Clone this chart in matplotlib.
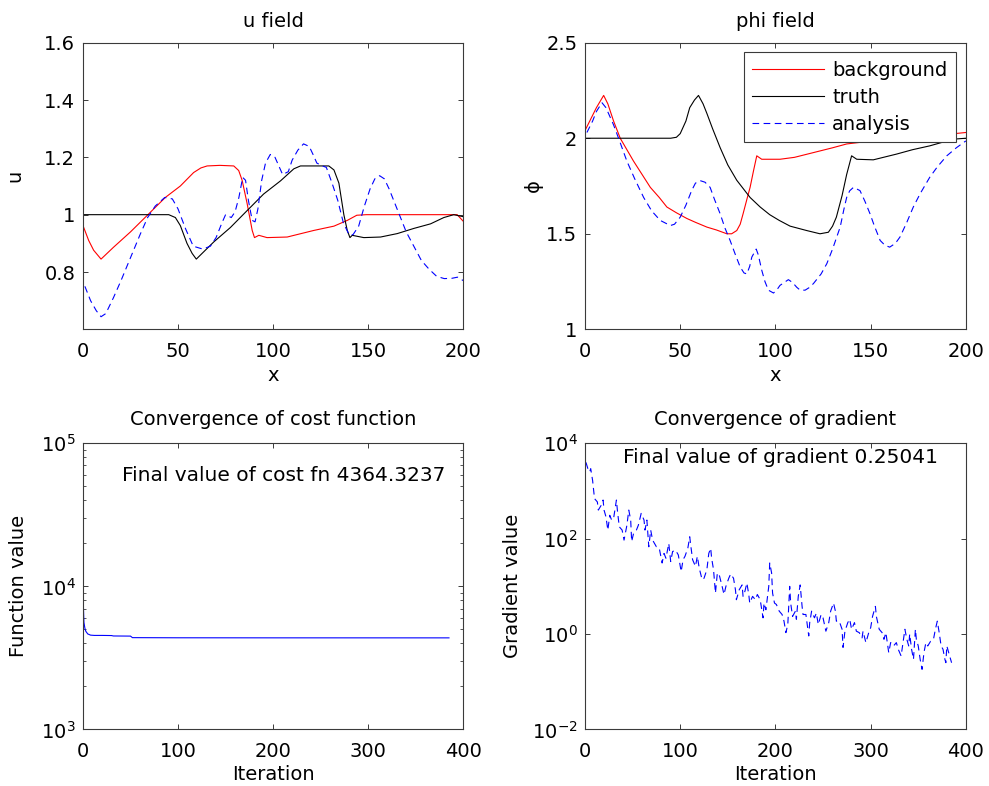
import matplotlib
matplotlib.use("Agg")
import matplotlib.pyplot as plt
import matplotlib.ticker as mticker
import numpy as np

plt.rcParams['font.family'] = ['DejaVu Sans']
plt.rcParams['font.size'] = 14
plt.rcParams['axes.linewidth'] = 0.8

# ---- u field -------------------------------------------------------------
u_bg_x = [0, 3, 5.6, 9.5, 16, 25, 33.7, 43.3, 51.2, 58.2, 62, 65.3, 72, 79.3,
          81.9, 83.7, 86.3, 89, 90.2, 92.5, 96.8, 107.4, 121.4, 132, 139, 144,
          149, 170, 196.8, 200]
u_bg = [0.962, 0.91, 0.876, 0.845, 0.886, 0.94, 0.997, 1.06, 1.10, 1.147, 1.163,
        1.17, 1.172, 1.17, 1.154, 1.12, 1.04, 0.945, 0.92, 0.928, 0.92, 0.922,
        0.945, 0.96, 0.98, 0.998, 1.0, 1.0, 1.0, 0.977]

u_truth_x = [0, 45.1, 48.6, 51.2, 54.7, 57.4, 59.6, 68.8, 77.5, 86.3, 95, 103.9,
             110.9, 114.4, 129.3, 132, 134.6, 137.2, 139, 140.4, 141.6, 147.7,
             156.5, 165.3, 174, 182.8, 189.8, 195, 200]
u_truth = [1.0, 1.0, 0.99, 0.962, 0.9, 0.865, 0.845, 0.905, 0.955, 1.014, 1.072,
           1.118, 1.16, 1.17, 1.17, 1.156, 1.11, 1.0, 0.945, 0.92, 0.928, 0.92,
           0.922, 0.934, 0.952, 0.968, 0.99, 1.0, 0.993]

u_an_x = [1, 4, 7, 9.5, 12, 16, 20, 25, 30, 34, 38, 43, 47, 50, 54, 58, 63, 67,
          70, 73, 75, 78, 80, 82, 84, 85.5, 87, 89, 90.5, 92, 94, 96, 98.5, 101,
          103, 105, 108, 110, 113, 116, 119, 121, 123, 126, 128, 131, 134, 137,
          140, 142, 145, 148, 151, 153.5, 156, 158.5, 161, 164, 167, 170, 174,
          178, 182, 186, 190, 194, 197, 200]
u_an = [0.75, 0.70, 0.665, 0.644, 0.655, 0.71, 0.77, 0.85, 0.93, 0.99, 1.03,
        1.06, 1.055, 1.02, 0.95, 0.89, 0.88, 0.89, 0.92, 0.97, 1.0, 0.99, 1.01,
        1.06, 1.13, 1.12, 1.05, 0.98, 0.975, 1.02, 1.12, 1.18, 1.21, 1.20, 1.17,
        1.14, 1.15, 1.19, 1.225, 1.247, 1.238, 1.21, 1.18, 1.17, 1.165, 1.11,
        1.05, 0.97, 0.93, 0.93, 0.96, 1.03, 1.09, 1.125, 1.136, 1.125, 1.09,
        1.04, 0.99, 0.94, 0.89, 0.84, 0.81, 0.785, 0.777, 0.778, 0.782, 0.77]

# ---- phi field -----------------------------------------------------------
phi_bg_x = [0, 3, 6, 9.8, 12, 15, 18.5, 22, 25.5, 30, 34.3, 39, 43, 48, 53.5,
            58, 64, 69, 74.5, 77, 79.7, 81.5, 83, 85, 86.7, 88.5, 90.2, 92.8,
            102.4, 110, 120, 130, 137.4, 150, 165, 180, 200]
phi_bg = [2.04, 2.10, 2.16, 2.224, 2.18, 2.09, 2.0, 1.94, 1.88, 1.81, 1.743,
          1.69, 1.64, 1.61, 1.58, 1.56, 1.535, 1.52, 1.5, 1.50, 1.517, 1.55,
          1.604, 1.68, 1.743, 1.83, 1.908, 1.89, 1.89, 1.90, 1.925, 1.95, 1.97,
          1.985, 2.0, 2.01, 2.03]

phi_truth_x = [0, 45, 48, 50, 53, 55, 57.5, 59.6, 62, 64, 67, 71, 75, 79.7,
               86.7, 92, 97, 102, 107.7, 116.4, 123.4, 127.8, 130, 132, 135,
               137.4, 140, 142.7, 151.4, 163.6, 172, 181, 193.4, 200]
phi_truth = [2.0, 2.0, 2.005, 2.024, 2.09, 2.16, 2.20, 2.224, 2.18, 2.13, 2.05,
             1.95, 1.86, 1.78, 1.69, 1.64, 1.60, 1.57, 1.54, 1.517, 1.5, 1.508,
             1.54, 1.587, 1.70, 1.81, 1.908, 1.89, 1.887, 1.917, 1.94, 1.96,
             1.995, 2.0]

phi_an_x = [1, 4, 6, 8.9, 11, 15, 18, 22, 26, 30.8, 35, 39.5, 44.8, 47, 50, 53,
            56, 58, 60.5, 63, 65.7, 68, 71, 73.5, 76.2, 79, 81.5, 83.5, 85, 86.5,
            87.6, 89.9, 91, 92.8, 94.5, 96.3, 99, 101, 102.4, 106.8, 109, 111.2,
            113, 115.6, 118, 120, 124, 127, 130, 134, 136, 137.4, 139, 141, 144.4,
            147, 149.7, 152, 155, 157.5, 160, 163, 165.4, 169, 172.4, 176, 181,
            185, 190, 195, 200]
phi_an = [2.03, 2.09, 2.14, 2.186, 2.16, 2.07, 1.99, 1.88, 1.79, 1.69, 1.62,
          1.57, 1.543, 1.55, 1.587, 1.65, 1.726, 1.765, 1.778, 1.77, 1.743, 1.68,
          1.604, 1.53, 1.465, 1.39, 1.326, 1.295, 1.29, 1.33, 1.378, 1.42, 1.39,
          1.31, 1.25, 1.205, 1.19, 1.21, 1.23, 1.26, 1.245, 1.22, 1.205, 1.205,
          1.22, 1.24, 1.29, 1.344, 1.42, 1.535, 1.63, 1.69, 1.725, 1.743, 1.726,
          1.67, 1.604, 1.54, 1.465, 1.44, 1.43, 1.45, 1.483, 1.56, 1.64, 1.71,
          1.795, 1.85, 1.908, 1.95, 1.986]

# ---- cost function -------------------------------------------------------
cost_iter = [0, 1, 2, 3, 5, 8, 12, 20, 30, 32, 50, 52, 100, 200, 300, 385]
cost_val = [8900, 5600, 5100, 4850, 4650, 4560, 4540, 4540, 4530, 4500, 4490,
            4380, 4370, 4366, 4365, 4364.3237]

# ---- gradient norm (log10 of value per iteration) ------------------------
grad_iter = [1, 3, 5, 6, 8, 10, 13, 14, 17, 19,
             20, 22, 24, 26, 28, 30, 33, 34, 36, 39,
             41, 44, 46, 48, 49, 51, 54, 56, 59, 62,
             63, 65, 67, 69, 71, 75, 78, 81, 83, 85,
             88, 90, 92, 95, 98, 101, 103, 105, 108, 110,
             111, 113, 116, 118, 120, 123, 125, 128, 130, 132,
             133, 135, 137, 139, 141, 144, 146, 148, 151, 153,
             156, 158, 159, 162, 165, 166, 168, 170, 172, 173,
             176, 179, 181, 184, 187, 188, 190, 193, 194, 196,
             197, 199, 201, 204, 207, 209, 211, 213, 215, 216,
             218, 221, 222, 224, 226, 228, 229, 232, 235, 236,
             238, 241, 243, 245, 248, 250, 253, 256, 258, 261,
             263, 264, 267, 270, 271, 273, 276, 278, 280, 283,
             285, 288, 291, 292, 295, 298, 300, 302, 305, 306,
             309, 312, 314, 316, 319, 321, 324, 327, 329, 332,
             334, 336, 338, 340, 341, 343, 345, 347, 348, 350,
             352, 354, 356, 358, 360, 363, 366, 368, 370, 372,
             374, 376, 378, 379, 380, 382, 383, 385]
grad_exp = [3.60, 3.47, 3.40, 3.47, 3.22, 2.84, 2.77, 2.60, 2.70, 2.81,
            2.60, 2.46, 2.18, 2.49, 2.39, 2.42, 2.81, 2.60, 2.25, 2.18,
            1.97, 2.28, 2.60, 2.39, 1.94, 2.11, 2.18, 2.28, 2.53, 2.39,
            2.18, 2.39, 1.83, 2.18, 1.97, 1.83, 1.80, 1.49, 1.69, 1.59,
            1.90, 1.52, 1.73, 1.76, 1.66, 1.31, 1.56, 1.63, 1.80, 2.04,
            1.87, 1.56, 1.42, 1.63, 1.38, 1.14, 1.17, 1.35, 1.69, 1.80,
            1.59, 1.35, 0.86, 1.28, 1.24, 1.00, 0.83, 1.00, 1.17, 1.26,
            1.17, 0.93, 0.72, 0.93, 1.03, 0.79, 0.90, 1.07, 0.83, 0.65,
            0.79, 0.72, 0.83, 0.72, 0.34, 0.65, 0.51, 1.00, 1.49, 1.28,
            0.86, 0.65, 0.62, 0.48, 0.41, 0.27, 0.03, 0.20, 1.00, 0.65,
            0.37, 0.48, 0.31, 0.79, 1.03, 0.58, 0.41, 0.41, -0.04, 0.24,
            0.48, 0.34, 0.44, 0.20, 0.41, 0.34, 0.06, 0.24, 0.48, 0.65,
            0.48, 0.27, 0.27, 0.10, -0.28, 0.06, 0.24, 0.31, 0.10, 0.24,
            0.06, 0.03, -0.08, 0.06, -0.18, 0.03, 0.13, 0.37, 0.58, 0.37,
            0.10, 0.03, -0.11, 0.03, -0.39, -0.18, -0.25, -0.18, -0.32, -0.46,
            -0.18, 0.10, -0.11, -0.25, 0.00, -0.32, -0.53, 0.10, -0.11, -0.25,
            -0.53, -0.74, -0.39, -0.18, -0.25, -0.15, -0.11, 0.10, 0.27, 0.03,
            -0.25, -0.32, -0.53, -0.60, -0.25, -0.39, -0.46, -0.6014]

final_cost = cost_val[-1]
final_grad = 0.25041

DASH = (0, (6, 4))
SPINE = '#3a3a3a'


def style(ax):
    for s in ax.spines.values():
        s.set_color(SPINE)
    ax.tick_params(which='both', direction='in', top=True, right=True,
                   color=SPINE, labelsize=14)
    ax.tick_params(which='major', length=3.5, width=0.7)
    ax.tick_params(which='minor', length=2, width=0.6)
    ax.tick_params(axis='x', pad=9)
    ax.tick_params(axis='y', pad=5.5)


fig = plt.figure(figsize=(9.89, 7.86), dpi=100)
ax1 = fig.add_axes([0.0839, 0.5810, 0.3845, 0.3647])
ax2 = fig.add_axes([0.5915, 0.5810, 0.3851, 0.3647])
ax3 = fig.add_axes([0.0839, 0.0720, 0.3845, 0.3640])
ax4 = fig.add_axes([0.5915, 0.0720, 0.3851, 0.3640])

# u field
ax1.plot(u_bg_x, u_bg, color='red', lw=0.8)
ax1.plot(u_truth_x, u_truth, color='black', lw=0.8)
ax1.plot(u_an_x, u_an, color='blue', lw=0.8, linestyle=DASH)
ax1.set_xlim(0, 200)
ax1.set_ylim(0.6, 1.6)
ax1.set_xticks([0, 50, 100, 150, 200])
ax1.set_yticks([0.8, 1.0, 1.2, 1.4, 1.6])
ax1.yaxis.set_major_formatter(mticker.FuncFormatter(lambda v, p: f'{v:g}'))
ax1.set_title('u field', fontsize=14, pad=11)
ax1.set_xlabel('x', labelpad=4)
ax1.set_ylabel('u')
ax1.yaxis.set_label_coords(-0.155, 0.537)
style(ax1)

# phi field
ax2.plot(phi_bg_x, phi_bg, color='red', lw=0.8, label='background')
ax2.plot(phi_truth_x, phi_truth, color='black', lw=0.8, label='truth')
ax2.plot(phi_an_x, phi_an, color='blue', lw=0.8, linestyle=DASH, label='analysis')
ax2.set_xlim(0, 200)
ax2.set_ylim(1, 2.5)
ax2.set_xticks([0, 50, 100, 150, 200])
ax2.set_yticks([1, 1.5, 2, 2.5])
ax2.yaxis.set_major_formatter(mticker.FuncFormatter(lambda v, p: f'{v:g}'))
ax2.set_title('phi field', fontsize=14, pad=11)
ax2.set_xlabel('x', labelpad=4)
ax2.set_ylabel('\u03d5')
ax2.yaxis.set_label_coords(-0.11, 0.50)
leg = ax2.legend(loc='upper right', fontsize=14, handlelength=3.7,
                 handletextpad=0.4, labelspacing=0.4, borderpad=0.45,
                 borderaxespad=0.5, fancybox=False, framealpha=1)
leg.get_frame().set_edgecolor(SPINE)
leg.get_frame().set_linewidth(0.8)
style(ax2)

# cost function convergence
ax3.semilogy(cost_iter, cost_val, color='blue', lw=0.8)
ax3.set_xlim(0, 400)
ax3.set_ylim(1e3, 1e5)
ax3.set_xticks([0, 100, 200, 300, 400])
ax3.set_title('Convergence of cost function', fontsize=14, pad=13)
ax3.set_xlabel('Iteration', labelpad=3)
ax3.set_ylabel('Function value')
ax3.yaxis.set_label_coords(-0.145, 0.5)
ax3.text(0.103, 0.888, f'Final value of cost fn {final_cost:.4f}',
         transform=ax3.transAxes, ha='left', va='center', fontsize=14.5)
style(ax3)

# gradient convergence
grad = [10 ** e for e in grad_exp[:-1]] + [final_grad]
ax4.semilogy(grad_iter, grad, color='blue', lw=0.8, linestyle=DASH)
ax4.set_xlim(0, 400)
ax4.set_ylim(1e-2, 1e4)
ax4.set_xticks([0, 100, 200, 300, 400])
ax4.set_yticks([1e-2, 1e0, 1e2, 1e4])
ax4.yaxis.set_minor_locator(mticker.NullLocator())
ax4.set_title('Convergence of gradient', fontsize=14, pad=13)
ax4.set_xlabel('Iteration', labelpad=3)
ax4.set_ylabel('Gradient value')
ax4.yaxis.set_label_coords(-0.165, 0.5)
ax4.text(0.10, 0.951, f'Final value of gradient {final_grad:.5f}',
         transform=ax4.transAxes, ha='left', va='center', fontsize=14.5)
style(ax4)

fig.savefig('out.png', dpi=100)
